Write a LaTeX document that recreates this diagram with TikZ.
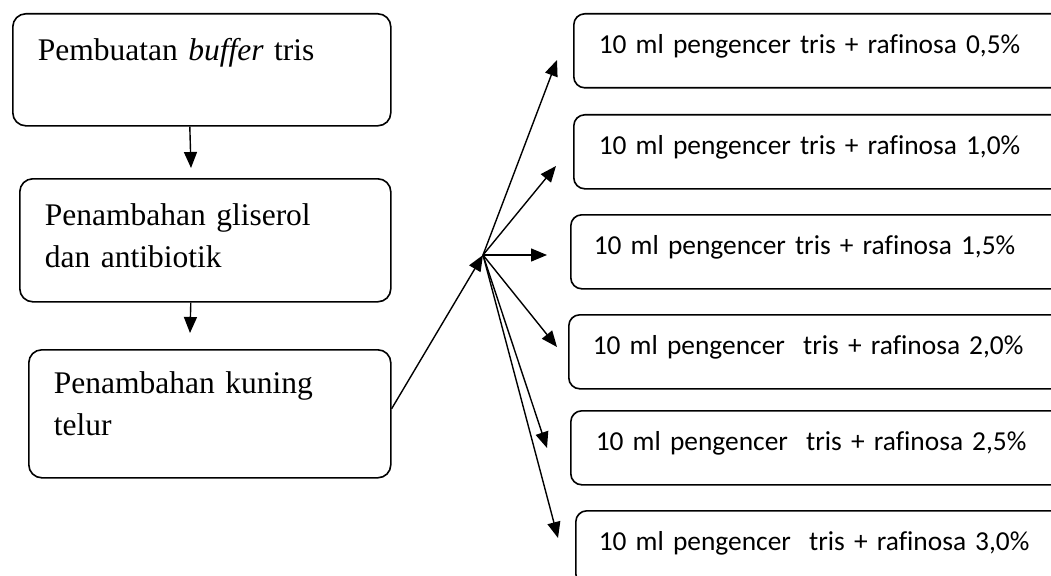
\documentclass[tikz,border=0pt]{standalone}
\usepackage{fontspec}
\setmainfont{Liberation Serif}
\newfontfamily\calibri[Ligatures=NoCommon]{Carlito}
\usetikzlibrary{arrows.meta,positioning}

\begin{document}
\begin{tikzpicture}
	[x=1pt, y=-1pt,
	 proses/.style={draw, line width=1.6pt, rounded corners=13pt, anchor=north west, inner xsep=25pt, inner ysep=0pt, align=left, font=\fontsize{31.5}{42}\selectfont},
	 hasil/.style={draw, line width=1.6pt, rounded corners=11pt, anchor=north west, inner xsep=25pt, inner ysep=0pt, text width=470pt, align=left, text height=40pt, text depth=34pt, font=\calibri\fontsize{27.4}{34}\selectfont},
	 panah/.style={-{Triangle[length=16pt,width=13pt]}, line width=1.4pt}]
	\useasboundingbox (0,0) rectangle (1051,575);
	% tahap pembuatan pengencer
	\node[proses, text width=328pt, text height=47pt, text depth=65pt] (P1) at (12,13) {Pembuatan \textit{buffer} tris};
	\node[proses, text width=321pt, text height=47pt, text depth=76pt] (P2) at (19,178) {Penambahan gliserol\\dan antibiotik};
	\node[proses, text width=312pt, text height=44pt, text depth=84pt] (P3) at (28,349) {Penambahan kuning\\telur};
	% perlakuan rafinosa
	\node[hasil] (R1) at (573,13) {10 ml pengencer tris + rafinosa 0,5\%};
	\node[hasil] (R2) at (573,114) {10 ml pengencer tris + rafinosa 1,0\%};
	\node[hasil, inner xsep=23pt] (R3) at (570,214) {10 ml pengencer tris + rafinosa 1,5\%};
	\node[hasil, inner xsep=24pt] (R4) at (568,314) {10 ml pengencer\ \ tris + rafinosa 2,0\%};
	\node[hasil] (R5) at (570,410) {10 ml pengencer\ \ tris + rafinosa 2,5\%};
	\node[hasil, inner xsep=23pt] (R6) at (575,510) {10 ml pengencer\ \ tris + rafinosa 3,0\%};
	\coordinate (a1) at (191,168);
	\coordinate (a2) at (190,333);
	\coordinate (hub) at (483,255);
	\coordinate (t1) at (557,60);
	\coordinate (t2) at (556,166);
	\coordinate (t3) at (547,255);
	\coordinate (t4) at (557,347);
	\coordinate (t5) at (547,448);
	\coordinate (t6) at (558,538);
	\draw[panah] ([xshift=-12pt]P1.south) -- (a1);
	\draw[panah] ([xshift=-14.5pt]P2.south) -- (a2);
	\draw[panah] ([yshift=5pt]P3.east) -- (hub);
	\foreach \t in {t1,t2,t3,t4,t5,t6}
		\draw[panah] (hub) -- (\t);
\end{tikzpicture}
\end{document}
